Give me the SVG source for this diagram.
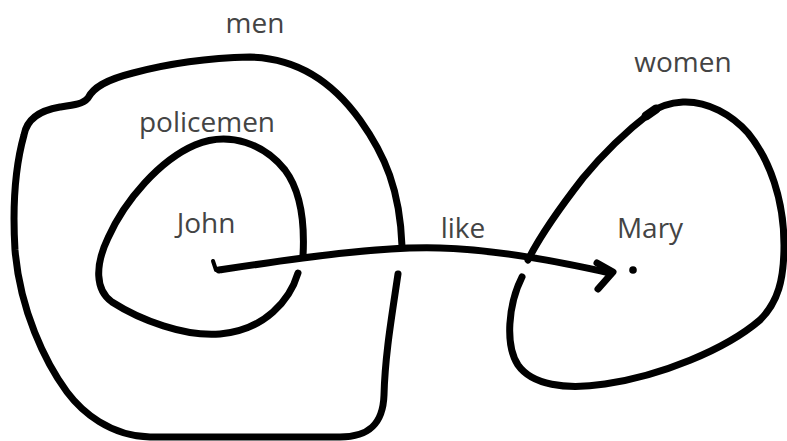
<svg xmlns="http://www.w3.org/2000/svg" width="787" height="441" viewBox="0 0 787 441">
<style>
.blob{fill:none;stroke:#000;stroke-width:7;stroke-linecap:round;stroke-linejoin:round}
.conn{fill:none;stroke:#000;stroke-width:7;stroke-linecap:round;stroke-linejoin:round}
.lbl{font-family:"Open Sans","Noto Sans","Liberation Sans",sans-serif;font-size:28px;fill:#444;text-anchor:middle}
</style>
<rect width="787" height="441" fill="#fff"/>
<g id="men">
<path class="blob" d="M398,274 C392,315 385,355 384,395 C383,425 368,437 340,437 L150,437 C110,436 82,412 67,392 C45,362 20,310 15,250 C12,200 17,160 24,135 C27,118 42,110 60,107 C75,105 83,104 88,98 C93,88 105,80 133,73 C170,63 210,58 250,57 C300,58 335,85 360,120 C385,155 400,190 402,246"/>
<text class="lbl" x="255" y="33">men</text>
</g>
<g id="policemen">
<path class="blob" d="M298,273 C290,300 265,330 220,334 C185,337 140,320 112,302 C95,290 95,265 108,238 C125,200 160,160 195,145 C230,130 265,145 285,170 C300,190 305,220 303,256"/>
<text class="lbl" x="207" y="132">policemen</text>
</g>
<g id="john">
<text class="lbl" x="206" y="233">John</text>
</g>
<g id="women">
<path class="blob" d="M522,277 C508,305 505,345 518,365 C532,385 565,390 605,384 C660,376 725,350 760,320 C778,302 784,280 784,245 C784,200 770,160 748,133 C732,115 708,101 683,102 C668,103 658,107 650,113 C628,130 602,155 583,178 C562,205 542,232 528,260"/>
<path class="blob" style="stroke-width:9" d="M646,116 L656,109"/>
<text class="lbl" x="683" y="72">women</text>
</g>
<g id="mary">
<text class="lbl" x="650" y="238">Mary</text>
<circle cx="633" cy="270" r="3.8" fill="#000"/>
</g>
<g id="connectors">
<path class="conn" style="stroke-width:4" d="M213,261 L216,270 L222,269"/>
<path class="conn" d="M219,270 C300,258 380,246 440,248 C500,250 560,262 610,273"/>
<path class="conn" d="M597,263 L613,272 L598,289"/>
<text class="lbl" x="463" y="238">like</text>
</g>
</svg>
